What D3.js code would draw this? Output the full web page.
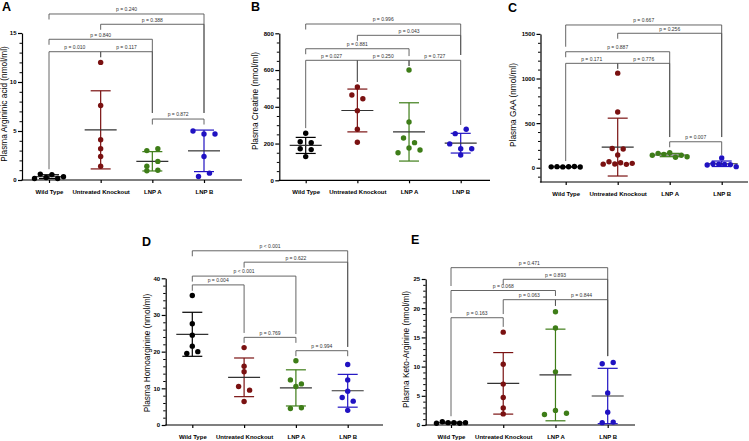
<!DOCTYPE html>
<html><head><meta charset="utf-8">
<script src="https://cdn.jsdelivr.net/npm/d3@7"></script>
<style>
body{margin:0;background:#fff}
svg{display:block}
text{font-family:"Liberation Sans",Arial,Helvetica,sans-serif}
</style></head>
<body><svg id="chart" width="749" height="441"></svg>
<script>
// ---------- DATA ----------
const groups = ["Wild Type", "Untreated Knockout", "LNP A", "LNP B"];
const groupColors = ["#000000", "#7a1111", "#3e7d18", "#2012c2"];

// A: Plasma Argininic acid (nmol/ml)
const argininicWT   = [0.15, 0.6, 0.25, 0.55, 0.15, 0.33];
const argininicUK   = [12.0, 7.6, 4.1, 3.2, 2.4, 1.4];
const argininicLNPA = [3.0, 3.2, 1.4, 1.9, 0.95, 1.0];
const argininicLNPB = [5.0, 4.7, 4.7, 2.4, 0.35, 0.7];
const argininicTicks = [0, 5, 10, 15];
// [group i, group j, label, bracket level, left leg end, right leg end] (levels in data units)
const argininicComps = [
  [0, 3, "p = 0.240", 16.94, null, 6.84],
  [1, 3, "p = 0.388", 15.89, null, 6.84],
  [0, 2, "p = 0.840", 14.36, null, 6.84],
  [0, 1, "p = 0.010", 13.09, 1.1, null],
  [1, 2, "p = 0.117", 13.09, null, 6.84],
  [2, 3, "p = 0.872", 6.22, null, null]
];

// B: Plasma Creatine (nmol/ml)
const creatineWT   = [256, 210, 205, 172, 167, 129];
const creatineUK   = [508, 464, 444, 379, 278, 207];
const creatineLNPA = [600, 317, 230, 205, 150, 176, 165];
const creatineLNPB = [254, 278, 198, 172, 172, 138];
const creatineTicks = [0, 200, 400, 600, 800];
const creatineComps = [
  [0, 3, "p = 0.996", 850.6, null, 682],
  [1, 3, "p = 0.043", 789, null, 682],
  [0, 2, "p = 0.881", 716, null, 676],
  [0, 1, "p = 0.027", 653, 284, 535],
  [1, 2, "p = 0.250", 653, 535, 622],
  [2, 3, "p = 0.727", 653, 622, 301]
];

// C: Plasma GAA (nmol/ml)
const gaaWT   = [10, 12, 9, 11, 13, 8];
const gaaUK   = [1060, 625, 215, 210, 142, 40, 67, 42, 56, 38, 49];
const gaaLNPA = [139, 161, 150, 168, 117, 139, 123];
const gaaLNPB = [110, 30, 45, 40, 38, 35, 12];
const gaaTicks = [0, 500, 1000, 1500];
const gaaComps = [
  [0, 3, "p = 0.667", 1600, 1356, 344],
  [1, 3, "p = 0.256", 1507, null, 344],
  [0, 2, "p = 0.887", 1300, null, 344],
  [0, 1, "p = 0.171", 1170, 75, null],
  [1, 2, "p = 0.776", 1170, null, 344],
  [2, 3, "p = 0.007", 291, null, 143]
];

// D: Plasma Homoarginine (nmol/ml)
const homoWT   = [35.3, 27.6, 24.5, 21.5, 19.5, 20.0];
const homoUK   = [21.1, 16.0, 14.5, 10.5, 9.5, 6.4];
const homoLNPA = [17.5, 12.3, 11.2, 10.5, 4.5, 4.7];
const homoLNPB = [16.5, 12.3, 9.2, 7.5, 6.5, 4.0];
const homoTicks = [0, 10, 20, 30, 40];
const homoComps = [
  [0, 3, "p < 0.001", 47.5, null, 21.3],
  [1, 3, "p = 0.622", 44.4, null, 21.3],
  [0, 2, "p < 0.001", 40.6, null, 24.8],
  [0, 1, "p = 0.004", 38.2, 36.6, 25.1],
  [1, 2, "p = 0.769", 23.9, null, null],
  [2, 3, "p = 0.994", 20.26, null, null]
];

// E: Plasma Keto-Arginine (nmol/ml)
const ketoWT   = [0.3, 0.55, 0.4, 0.4, 0.3, 0.4];
const ketoUK   = [15.9, 10.4, 7.0, 4.7, 2.9, 1.9];
const ketoLNPA = [19.4, 16.6, 9.1, 1.8, 2.5, 2.0];
const ketoLNPB = [10.5, 10.7, 5.5, 2.2, 0.4, 0.5];
const ketoTicks = [0, 5, 10, 15, 20, 25];
const ketoComps = [
  [0, 3, "p = 0.471", 26.94, 23.8, 11.8],
  [1, 3, "p = 0.893", 24.95, null, 11.8],
  [0, 2, "p = 0.068", 23.03, 19.2, null],
  [1, 2, "p = 0.063", 21.46, 19.0, 20.4],
  [2, 3, "p = 0.844", 21.46, 20.4, 11.8],
  [0, 1, "p = 0.163", 18.37, 1.5, 16.8]
];

// ---------- PANELS (layout) ----------
const panels = [
  {letter:"A", title:"Plasma Argininic acid (nmol/ml)",
   series:[argininicWT, argininicUK, argininicLNPA, argininicLNPB],
   domain:[0,15], ticks:argininicTicks, minorStep:1, comps:argininicComps,
   L:{ax:22, xEnd:242, x0:49, x1:204, top:33, bottom:180, lx:2, ly:10.5, tx:6.7, ty:104, cy:194}},
  {letter:"B", title:"Plasma Creatine (nmol/ml)",
   series:[creatineWT, creatineUK, creatineLNPA, creatineLNPB],
   domain:[0,800], ticks:creatineTicks, minorStep:50, comps:creatineComps,
   L:{ax:279.3, xEnd:490, x0:305.7, x1:460.7, top:33.3, bottom:180.3, lx:251, ly:10.5, tx:258, ty:101, cy:194}},
  {letter:"C", title:"Plasma GAA (nmol/ml)",
   series:[gaaWT, gaaUK, gaaLNPA, gaaLNPB],
   domain:[-160,1500], ticks:gaaTicks, minorStep:100, comps:gaaComps,
   L:{ax:540.5, xEnd:748, x0:565.7, x1:721.7, top:33.9, bottom:182, lx:508, ly:12, tx:515.5, ty:105, cy:195.5}},
  {letter:"D", title:"Plasma Homoarginine (nmol/ml)",
   series:[homoWT, homoUK, homoLNPA, homoLNPB],
   domain:[0,40], ticks:homoTicks, minorStep:2, comps:homoComps,
   L:{ax:165.7, xEnd:383, x0:192.3, x1:347.7, top:278.3, bottom:425, lx:142, ly:245.5, tx:150, ty:353, cy:438.5}},
  {letter:"E", title:"Plasma Keto-Arginine (nmol/ml)",
   series:[ketoWT, ketoUK, ketoLNPA, ketoLNPB],
   domain:[0,25], ticks:ketoTicks, minorStep:1, comps:ketoComps,
   L:{ax:425.7, xEnd:635, x0:451, x1:607.7, top:279, bottom:425, lx:411, ly:243.5, tx:409, ty:349.5, cy:439}}
];

const svg = d3.select("#chart");
const R = 2.7;

function swarm(values, y) {
  const pts = values.map((v, i) => ({v, i, y: y(v), dx: 0}));
  const sorted = pts.slice().sort((a, b) => a.y - b.y);
  const rows = []; let cur = null;
  sorted.forEach(p => {
    if (cur && p.y - cur[0].y < 5.4) cur.push(p); else { cur = [p]; rows.push(cur); }
  });
  rows.forEach(r => {
    r.sort((a, b) => a.i - b.i);
    const s = r.length <= 3 ? 11 : 5.8;
    r.forEach((p, k) => p.dx = (k - (r.length - 1) / 2) * s);
  });
  return pts;
}

panels.forEach(P => {
  const L = P.L;
  const g = svg.append("g");
  const y = d3.scaleLinear().domain(P.domain).range([L.bottom, L.top]);
  const x = d3.scalePoint().domain(groups).range([L.x0, L.x1]);

  // panel letter
  g.append("text").attr("x", L.lx).attr("y", L.ly).text(P.letter)
    .attr("font-size", 12.5).attr("font-weight", "bold").attr("fill", "#000");

  // y title
  g.append("text").attr("transform", `translate(${L.tx},${L.ty}) rotate(-90)`)
    .attr("text-anchor", "middle").attr("font-size", 8.3).attr("fill", "#000").text(P.title);

  // minor ticks
  const minor = d3.range(Math.ceil(P.domain[0] / P.minorStep) * P.minorStep, P.domain[1] + 1e-9, P.minorStep)
    .filter(v => !P.ticks.includes(v));
  const ym = g.append("g").attr("transform", `translate(${L.ax},0)`)
    .call(d3.axisLeft(y).tickValues(minor).tickSize(2.5).tickFormat(""));
  ym.select(".domain").remove();
  ym.selectAll("line").attr("stroke", "#000").attr("stroke-width", 1);

  // y axis
  const ya = g.append("g").attr("transform", `translate(${L.ax},0)`)
    .call(d3.axisLeft(y).tickValues(P.ticks).tickSize(4).tickSizeOuter(0).tickPadding(1.5).tickFormat(d3.format("d")));
  ya.select(".domain").attr("stroke", "#000").attr("stroke-width", 1.2);
  ya.selectAll("line").attr("stroke", "#000").attr("stroke-width", 1.2);
  ya.selectAll("text").attr("font-size", 6).attr("font-weight", "bold").attr("fill", "#000")
    .attr("font-family", "Liberation Sans, Arial, sans-serif");

  // x axis
  const xa = g.append("g").attr("transform", `translate(0,${L.bottom})`)
    .call(d3.axisBottom(x).tickSize(3).tickSizeOuter(0).tickPadding(5));
  xa.select(".domain").remove();
  xa.append("line").attr("x1", L.ax - 0.6).attr("x2", L.xEnd).attr("y1", 0).attr("y2", 0)
    .attr("stroke", "#000").attr("stroke-width", 1.2);
  xa.selectAll(".tick line").attr("stroke", "#000").attr("stroke-width", 1.2);
  xa.selectAll(".tick text").attr("font-size", 6).attr("font-weight", "bold").attr("fill", "#000")
    .attr("font-family", "Liberation Sans, Arial, sans-serif")
    .attr("dy", null).attr("y", L.cy - L.bottom);

  // brackets
  const bg = g.append("g");
  P.comps.forEach(c => {
    const [i, j, lab, lev, le, re] = c;
    const xa_ = x(groups[i]), xb_ = x(groups[j]), yl = y(lev);
    const ya_ = le == null ? yl + 5.5 : y(le);
    const yb_ = re == null ? yl + 5.5 : y(re);
    bg.append("path").attr("d", `M${xa_},${ya_}V${yl}H${xb_}V${yb_}`)
      .attr("fill", "none").attr("stroke", "#555").attr("stroke-width", 0.9);
    bg.append("text").attr("x", (xa_ + xb_) / 2).attr("y", yl - 2.6)
      .attr("text-anchor", "middle").attr("font-size", 5).attr("fill", "#333").text(lab);
  });

  // series: mean, SD, dots
  P.series.forEach((vals, gi) => {
    const cx = x(groups[gi]);
    const col = groupColors[gi];
    const m = d3.mean(vals), sd = d3.deviation(vals);
    const eg = g.append("g");
    eg.append("line").attr("x1", cx).attr("x2", cx).attr("y1", y(m + sd)).attr("y2", y(m - sd))
      .attr("stroke", col).attr("stroke-width", 1.2);
    [m + sd, m - sd].forEach(v => eg.append("line").attr("x1", cx - 10).attr("x2", cx + 10)
      .attr("y1", y(v)).attr("y2", y(v)).attr("stroke", col).attr("stroke-width", 1.2));
    eg.append("line").attr("x1", cx - 16).attr("x2", cx + 16).attr("y1", y(m)).attr("y2", y(m))
      .attr("stroke", "#333").attr("stroke-width", 1.2);
    g.append("g").selectAll("circle").data(swarm(vals, y)).join("circle")
      .attr("cx", d => cx + d.dx).attr("cy", d => d.y).attr("r", R).attr("fill", col);
  });
});
</script></body></html>
